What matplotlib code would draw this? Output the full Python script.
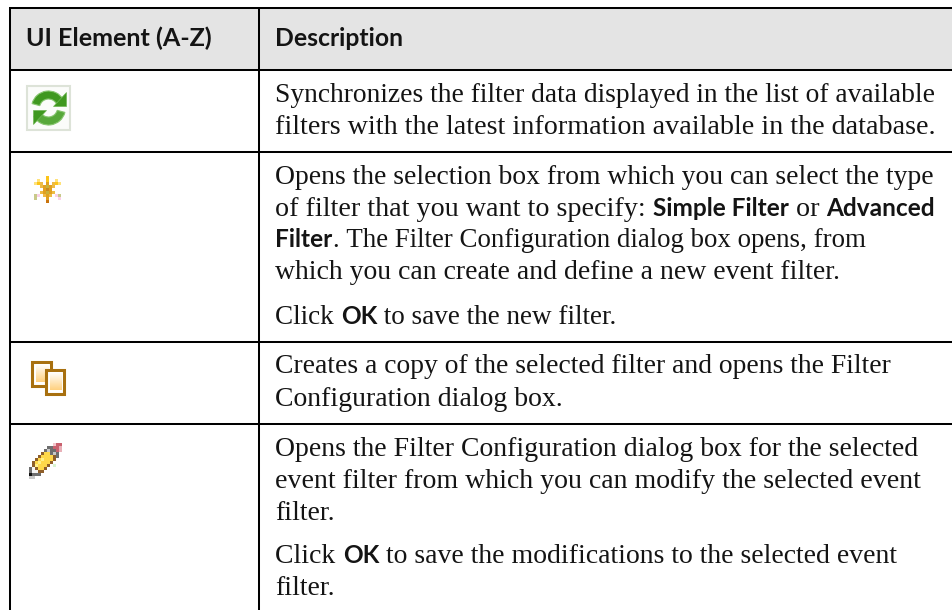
import numpy as np
import matplotlib
matplotlib.use("Agg")
import matplotlib.pyplot as plt
from matplotlib.patches import Rectangle, Polygon, Wedge
from matplotlib.colors import to_rgba

W, H = 953, 610
HEADERS = ["UI Element (A-Z)", "Description"]
# (baseline y, [(text, bold), ...], rendered width)
BODY = [
 (102, [("Synchronizes the filter data displayed in the list of available", 0)], 659),
 (134, [("filters with the latest information available in the database.", 0)], 659),
 (184, [("Opens the selection box from which you can select the type", 0)], 659),
 (216, [("of filter that you want to specify: ", 0), ("Simple Filter", 1), (" or ", 0), ("Advanced", 1)], 659),
 (247, [("Filter", 1), (". The Filter Configuration dialog box opens, from", 0)], 592),
 (279, [("which you can create and define a new event filter.", 0)], 565),
 (324, [("Click ", 0), ("OK", 1), (" to save the new filter.", 0)], 342),
 (373, [("Creates a copy of the selected filter and opens the Filter", 0)], 616),
 (406, [("Configuration dialog box.", 0)], 287),
 (456, [("Opens the Filter Configuration dialog box for the selected", 0)], 642),
 (488, [("event filter from which you can modify the selected event", 0)], 647),
 (520, [("filter.", 0)], 59),
 (563, [("Click ", 0), ("OK", 1), (" to save the modifications to the selected event", 0)], 622),
 (595, [("filter.", 0)], 59),
]
ROW_LINES = [8, 70, 151.7, 342, 424]
COL_LINES = [10, 258.7]

fig = plt.figure(figsize=(W/100, H/100), dpi=100)
ax = fig.add_axes([0, 0, 1, 1])
ax.set_xlim(0, W); ax.set_ylim(H, 0); ax.axis("off")

ax.add_patch(Rectangle((10, 8), W-10, 62, fc="#e4e4e4", ec="none", zorder=0))
for y in ROW_LINES:
    ax.plot([9, W], [y, y], color="black", lw=1.45, solid_capstyle="butt", zorder=3)
for x in COL_LINES:
    ax.plot([x, x], [7.5, H], color="black", lw=1.45, solid_capstyle="butt", zorder=3)

SANS = "Lato"
SERIF = "Liberation Serif"
fig.canvas.draw()
R = fig.canvas.get_renderer()
FB = 17.6

def draw_runs(x0, y, runs, s, fb):
    x = x0
    arts = []
    for txt, b in runs:
        t = ax.text(x, y, txt.replace(" ", "\u00a0"), family=SANS if b else SERIF,
                    weight="bold" if b else "normal",
                    fontsize=fb if b else 15.7*s, color="#141414", zorder=6)
        x += t.get_window_extent(R).width
        arts.append(t)
    return arts, x - x0

def fit(x0, y, runs, target, fb):
    # bold runs keep one size; the serif runs take up the remaining width
    arts, w = draw_runs(x0, y, runs, 1.0, fb)
    bold = sum(a.get_window_extent(R).width for a, r in zip(arts, runs) if r[1])
    for a in arts:
        a.remove()
    draw_runs(x0, y, runs, (target - bold) / (w - bold), fb)

ax.text(26, 46, HEADERS[0], family=SANS, weight="bold", fontsize=18.1, color="#141414", zorder=6)
ax.text(275.5, 46, HEADERS[1], family=SANS, weight="bold", fontsize=17.8, color="#141414", zorder=6)
for y, runs, target in BODY:
    fit(275.5, y, runs, target, FB)

def pixels(rows, pal, x0, y0, cell):
    arr = np.array([[to_rgba(pal[c]) for c in r] for r in rows])
    ax.imshow(arr, extent=(x0, x0+cell*len(rows[0]), y0+cell*len(rows), y0),
              interpolation="nearest", aspect="auto", zorder=4)

# --- icons ---
# refresh
ax.add_patch(Rectangle((27, 86), 43, 44, fc="#fbfcfa", ec="#dde3d8", lw=1.5, zorder=2))
g1, g2 = "#57a83a", "#3f981f"
ax.add_patch(Wedge((48.5, 108), 17, 195, 330, width=8, fc=g2, ec="#86c56e", lw=.8, zorder=3))
ax.add_patch(Wedge((48.5, 108), 17, 15, 150, width=8, fc=g1, ec="#86c56e", lw=.8, zorder=3))
ax.add_patch(Polygon([[66, 92], [66, 106], [53, 106]], fc=g2, ec="#6fb554", lw=.5, zorder=3))
ax.add_patch(Polygon([[33, 124], [33, 110], [46, 110]], fc=g2, ec="#6fb554", lw=.5, zorder=3))
# star
STAR = ["....Y....",
        ".y..Y..y.",
        "yYo.O.oYy",
        "..oOGOo..",
        "...OBO...",
        "..oOGOo..",
        "gp.oOo.pg",
        "g...O...p",
        "....R...."]
pixels(STAR, {".": "#ffffff", "Y": "#fcc419", "y": "#ffe27a", "o": "#eebb44", "O": "#e0a020",
              "G": "#c8b23c", "B": "#c88a20", "g": "#c9c98a", "p": "#fbd0e8", "R": "#c9730c"},
       34, 176, 3)
# copy
bc = "#a8700f"
grad = np.linspace(0, 1, 32)[:, None, None] * (np.array([1.0, 0.82, 0.5]) - 1) + 1
for (x0, y0, x1, y1) in [(31, 360, 53, 387), (45, 368, 66, 395)]:
    ax.add_patch(Rectangle((x0+1.5, y0+1.5), x1-x0-3, y1-y0-3, fc="white", ec=bc, lw=2.2, zorder=3+(x0 > 40)*2))
    ax.imshow(grad, extent=(x0+5, x1-4, y1-5, y0+4), aspect="auto", zorder=3.5+(x0 > 40)*2)
# pencil
PENCIL = ["........pRR.",
          "......kkRRP.",
          ".....kGkkRP.",
          "....bYYkGk..",
          "...bYYYYbk..",
          "..bYyYYYb...",
          ".bYyYYYb....",
          ".byYYYb.n...",
          "kwbYYb......",
          "kwwbb.......",
          "Kkkk........",
          "ll.........."]
pixels(PENCIL, {".": "#ffffff", "p": "#f3c6cc", "R": "#c9616e", "P": "#e8b0b8", "k": "#6e6e6e",
                "G": "#c8c8c8", "b": "#8f5f2a", "Y": "#ffd84a", "y": "#fff08a", "n": "#d8f5d0",
                "w": "#f4f4f4", "K": "#111111", "l": "#c8c8c8"}, 29, 443, 3)

ax.set_xlim(0, W); ax.set_ylim(H, 0)
fig.savefig("out.png", dpi=100, facecolor="white")
